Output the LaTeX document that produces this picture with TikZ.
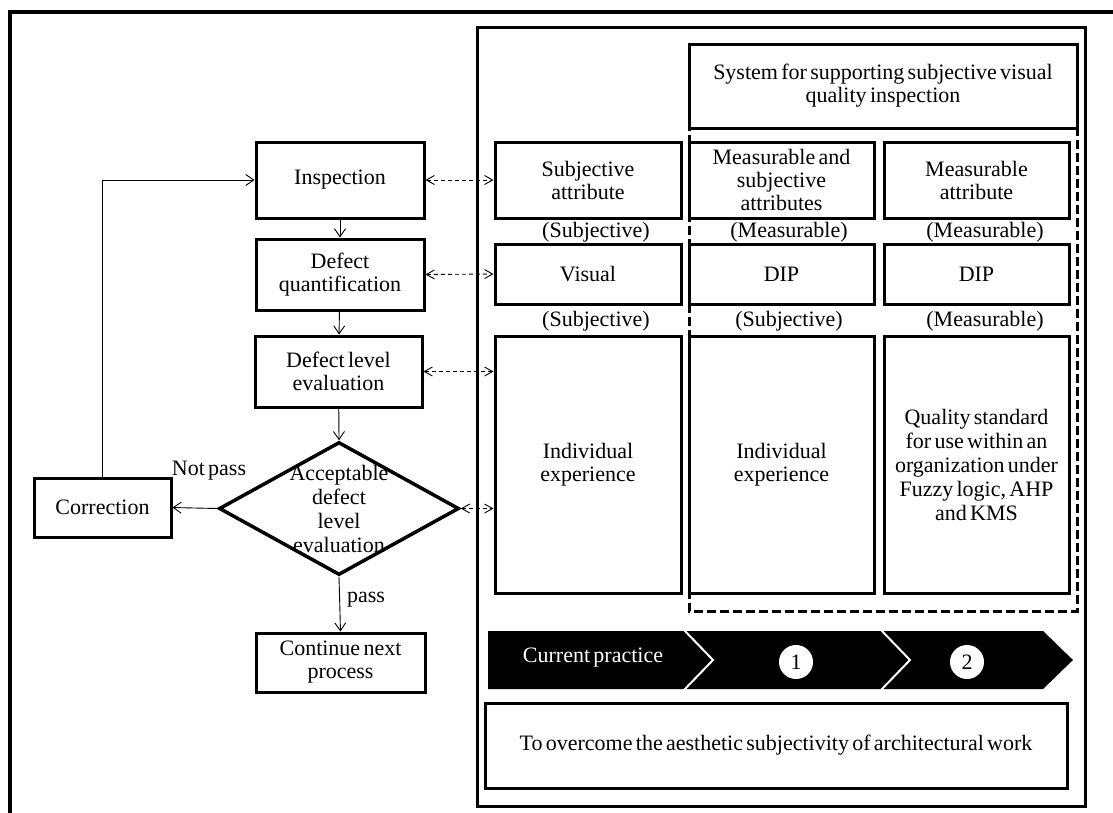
\documentclass[tikz,border=0pt]{standalone}
\usepackage{fontspec}
\setmainfont{Liberation Serif}[WordSpace={0.6}]
\usetikzlibrary{arrows.meta,shapes.geometric}

\tikzset{
  box/.style={draw, line width=3, inner sep=0pt, align=center},
  flow/.style={line width=0.9, -{Straight Barb[length=8,width=11]}},
  link/.style={line width=0.9, dash pattern=on 4 off 3,
    {Straight Barb[length=8,width=9]}-{Straight Barb[length=8,width=9]}},
  tag/.style={inner sep=0pt, align=center},
}

\begin{document}
\begin{tikzpicture}[x=1pt, y=-1pt, font=\fontsize{22}{23}\selectfont]
\useasboundingbox (0,0) rectangle (1113,812);
\clip (0,0) rectangle (1113,812);

% outer frame and right-hand panel
\draw[line width=4] (10,12) rectangle (1140,840);
\draw[line width=3] (477,27) rectangle (1085,806);

% process flow on the left
\node[box, minimum width=168, minimum height=76] (insp) at (340,180) {Inspection};
\node[box, minimum width=168, minimum height=71] (dq) at (340,274.5) {Defect\\quantification};
\node[box, minimum width=167, minimum height=71] (dl) at (338.5,371.5) {Defect level\\evaluation};
\node[draw, line width=3.5, shape=diamond, minimum width=240, minimum height=133, inner sep=0pt] (dia) at (339,508.5) {};
\node[tag, font=\fontsize{22}{24}\selectfont] (diatext) at (339,509) {Acceptable\\defect\\level\\evaluation};
\node[box, minimum width=137, minimum height=59] (corr) at (102.5,507.5) {Correction};
\node[box, minimum width=169, minimum height=59] (cont) at (340.5,662.5) {Continue next\\process};

\draw[flow] (insp) -- (dq);
\draw[flow] (dq) -- (dl);
\draw[flow] (dl) -- (dia.north);
\draw[flow] (dia.west) -- (corr.east);
\draw[flow] (dia.south) -- (cont.north);
\draw[flow] (corr.north) |- (insp.west);
\node[tag] (notpass) at (209,471) {Not pass};
\node[tag] (pass) at (366,600) {pass};

% supporting system region
\node[box, minimum width=388, minimum height=84] (sys) at (883,86) {System for supporting subjective visual\\quality inspection};
\draw[line width=3, dash pattern=on 9 off 4] (689,44) rectangle (1077,611);

% attribute / method / standard grid
\node[box, minimum width=186, minimum height=76] (a1) at (588,180) {Subjective\\attribute};
\node[box, minimum width=185, minimum height=76] (a2) at (781.5,180) {Measurable and\\subjective\\attributes};
\node[box, minimum width=185, minimum height=76] (a3) at (976.5,180) {Measurable\\attribute};
\node[box, minimum width=186, minimum height=60] (b1) at (588,274) {Visual};
\node[box, minimum width=185, minimum height=60] (b2) at (781.5,274) {DIP};
\node[box, minimum width=185, minimum height=60] (b3) at (976.5,274) {DIP};
\node[box, minimum width=186, minimum height=257] (c1) at (588,464.5) {Individual\\experience};
\node[box, minimum width=185, minimum height=257] (c2) at (781.5,464.5) {Individual\\experience};
\node[box, minimum width=185, minimum height=257, font=\fontsize{22}{24}\selectfont] (c3) at (976.5,464.5) {Quality standard\\for use within an\\organization under\\Fuzzy logic, AHP\\and KMS};

\node[tag] (l11) at (596,232) {(Subjective)};
\node[tag] (l12) at (789,232) {(Measurable)};
\node[tag] (l13) at (985,232) {(Measurable)};
\node[tag] (l21) at (596,321) {(Subjective)};
\node[tag] (l22) at (789,321) {(Subjective)};
\node[tag] (l23) at (985,321) {(Measurable)};

% links between the flow and the grid
\draw[link] (insp.east) -- (a1.west);
\draw[link] (dq.east) -- (b1.west);
\draw[link] (dl.east) -- (dl.east -| c1.west);
\draw[link] (dia.east) -- (dia.east -| c1.west);

% progression band
\fill[black] (488,631) -- (1043,631) -- (1073,660) -- (1043,689) -- (488,689) -- cycle;
\draw[white, line width=2] (683,629) -- (713,660) -- (683,691);
\draw[white, line width=2] (880,629) -- (910,660) -- (880,691);
\node[tag, text=white] (cur) at (593,658) {Current practice};
\node[circle, fill=white, minimum size=34, inner sep=0pt] (s1) at (796,662) {1};
\node[circle, fill=white, minimum size=34, inner sep=0pt] (s2) at (967,662) {2};

% goal
\node[box, minimum width=582, minimum height=85] (goal) at (776,745.5) {To overcome the aesthetic subjectivity of architectural work};
\end{tikzpicture}
\end{document}
